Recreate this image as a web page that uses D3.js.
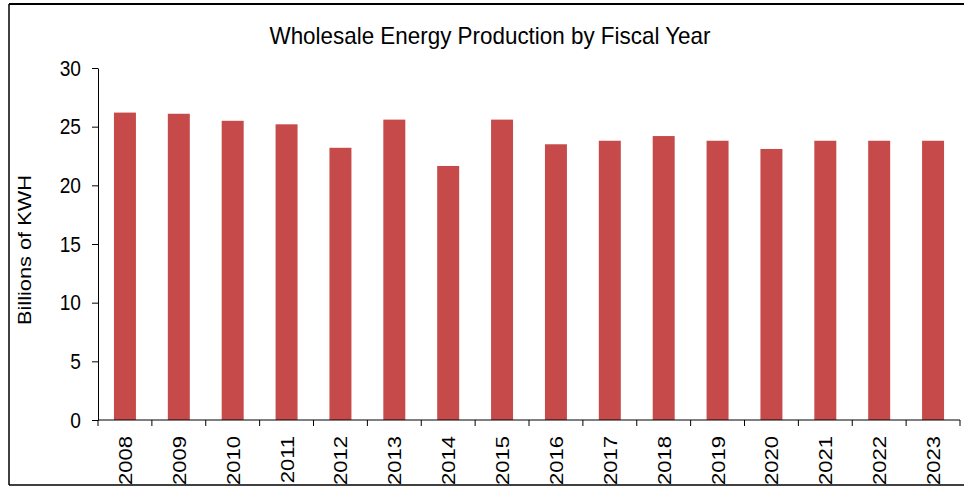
<!DOCTYPE html>
<html>
<head>
<meta charset="utf-8">
<script src="https://cdn.jsdelivr.net/npm/d3@7"></script>
<style>
  body { margin: 0; background: #fff; }
  svg { display: block; font-family: "Liberation Sans", Arial, sans-serif; }
</style>
</head>
<body>
<svg id="chart" width="964" height="487"></svg>
<script>
// data
const years = ['2008', '2009', '2010', '2011', '2012', '2013', '2014', '2015',
               '2016', '2017', '2018', '2019', '2020', '2021', '2022', '2023']
const production = [26.2, 26.1, 25.5, 25.2, 23.2, 25.6, 21.65, 25.6,
                    23.5, 23.8, 24.2, 23.8, 23.1, 23.8, 23.8, 23.8]
const yTicks = [0, 5, 10, 15, 20, 25, 30]

const title = 'Wholesale Energy Production by Fiscal Year'
const yLabel = 'Billions of KWH'

const svg = d3.select('#chart')
const width = 964, height = 487
const margin = { top: 68, right: 4, bottom: 67, left: 98 }
const squeeze = 0.87 // the reference text is a bit narrow

// frame round the chart (right side is cut off in the reference)
svg.append('defs').append('clipPath').attr('id', 'frameClip')
  .append('rect').attr('x', 9).attr('y', 4).attr('width', width - 9).attr('height', 481)

svg.append('line').attr('x1', 9).attr('x2', width).attr('y1', 4).attr('y2', 4)
  .attr('stroke', '#000').attr('stroke-width', 2)
svg.append('line').attr('x1', 9).attr('x2', width).attr('y1', 485).attr('y2', 485)
  .attr('stroke', '#000').attr('stroke-width', 1.5)
svg.append('line').attr('x1', 9).attr('x2', 9).attr('y1', 4).attr('y2', 485)
  .attr('stroke', '#000').attr('stroke-width', 1.5)

let x = d3.scaleBand()
  .domain(years)
  .range([margin.left, width - margin.right])
  .paddingInner(0.592)
  .paddingOuter(0.296)

let y = d3.scaleLinear()
  .domain([0, 30])
  .range([height - margin.bottom, margin.top])

// title
svg.append('text')
  .attr('x', 490)
  .attr('y', 44)
  .attr('text-anchor', 'middle')
  .attr('font-size', 24)
  .attr('textLength', 441)
  .attr('lengthAdjust', 'spacingAndGlyphs')
  .attr('fill', '#000')
  .text(title)

// y axis title
svg.append('text')
  .attr('transform', 'translate(31,250) rotate(-90)')
  .attr('text-anchor', 'middle')
  .attr('font-size', 19)
  .attr('textLength', 150)
  .attr('lengthAdjust', 'spacingAndGlyphs')
  .attr('fill', '#000')
  .text(yLabel)

// bars
svg.append('g')
  .selectAll('rect')
  .data(production)
  .join('rect')
  .attr('x', (d, i) => x(years[i]))
  .attr('y', (d) => y(d))
  .attr('width', x.bandwidth())
  .attr('height', (d) => y(0) - y(d))
  .attr('fill', '#c64a4a')

// y axis
let yAxis = svg.append('g')
  .attr('transform', `translate(${margin.left},0)`)
  .call(d3.axisLeft(y).tickValues(yTicks).tickSize(6).tickPadding(11).tickSizeOuter(0))
yAxis.select('.domain').attr('stroke', '#000')
yAxis.selectAll('.tick line').attr('stroke', '#000')
yAxis.selectAll('.tick text')
  .attr('font-size', 22)
  .attr('font-family', '"Liberation Sans", Arial, sans-serif')
  .attr('fill', '#000')
  .attr('x', -17 / squeeze)
  .attr('transform', `scale(${squeeze},1)`)

// x axis: line plus ticks at the category boundaries
let x0 = x.range()[0]
let step = x.step()
let boundaries = d3.range(years.length + 1).map((i) => x0 + i * step)
let xAxis = svg.append('g')
xAxis.append('line')
  .attr('x1', x0).attr('x2', x.range()[1])
  .attr('y1', y(0)).attr('y2', y(0))
  .attr('stroke', '#000')
xAxis.selectAll('line.tk')
  .data(boundaries)
  .join('line')
  .attr('class', 'tk')
  .attr('x1', (d) => d).attr('x2', (d) => d)
  .attr('y1', y(0)).attr('y2', y(0) + 6)
  .attr('stroke', '#000')

// rotated year labels, clipped by the frame bottom
svg.append('g')
  .attr('clip-path', 'url(#frameClip)')
  .selectAll('text')
  .data(years)
  .join('text')
  .attr('transform', (d) => `translate(${x(d) + x.bandwidth() / 2 + 7},436) rotate(-90) scale(1,${squeeze})`)
  .attr('text-anchor', 'end')
  .attr('font-size', 22)
  .attr('fill', '#000')
  .text((d) => d)
</script>
</body>
</html>
